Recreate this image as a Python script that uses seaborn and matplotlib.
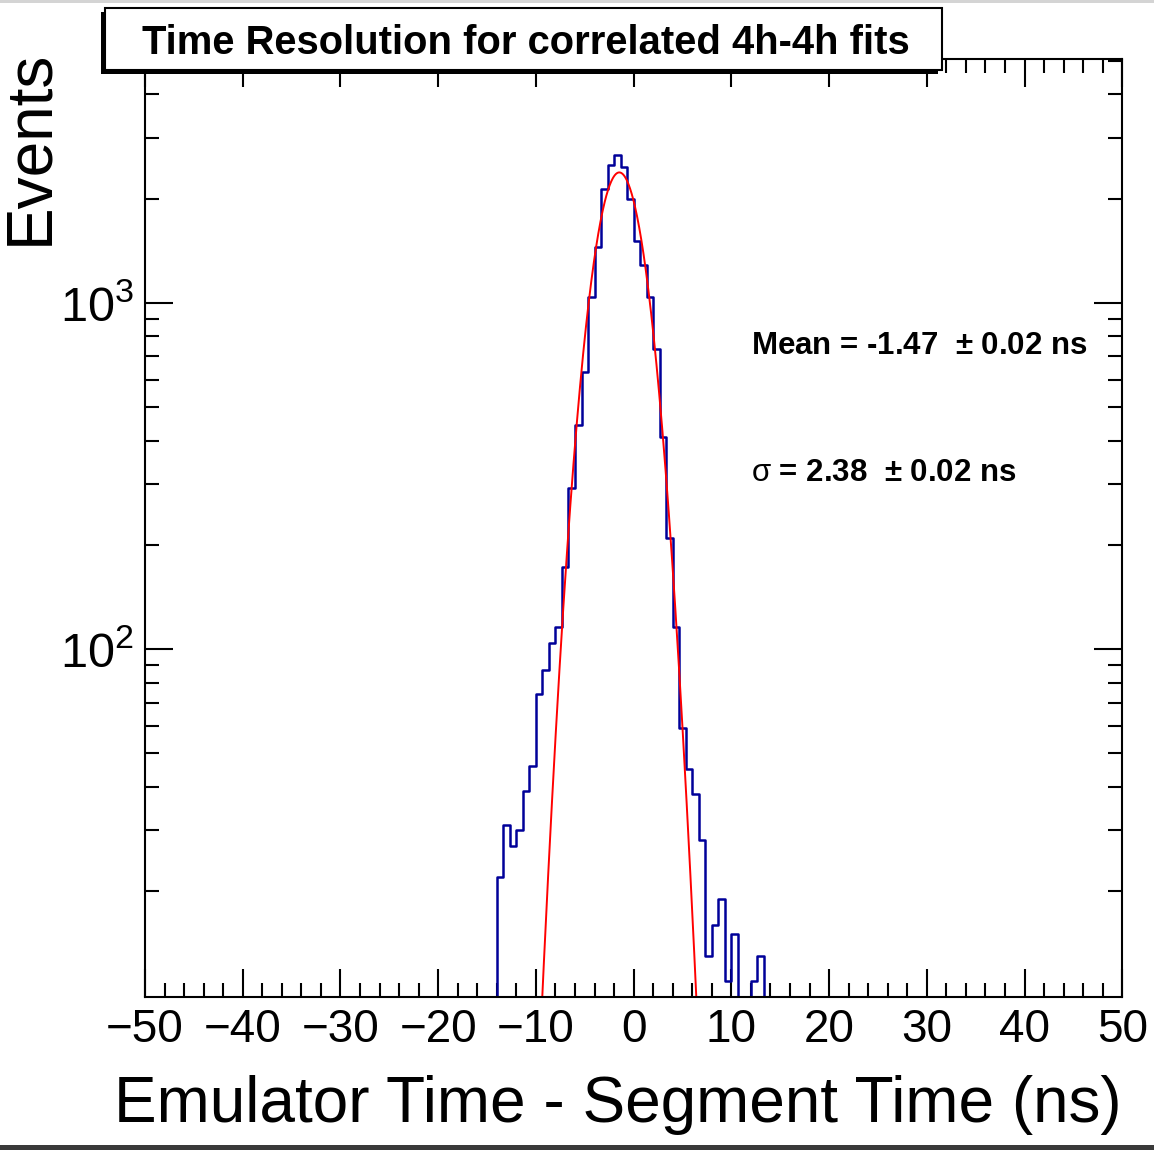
import numpy as np
import pandas as pd
import matplotlib
matplotlib.use("Agg")
import matplotlib.pyplot as plt
import matplotlib.ticker as mticker
from matplotlib.patches import Rectangle
import seaborn as sns

# histogram: 150 bins on [-50, 50], only the populated region listed
bin_width = 2.0 / 3.0
first_edge = -16.0
counts = [3, 4, 7,
          22, 31, 27, 30, 39, 46, 74, 87, 104, 116, 173, 291, 443, 630,
          1041, 1449, 2133, 2503, 2676, 2470, 1993, 1510, 1285, 1041, 736,
          410, 209, 116, 59, 45, 38, 28, 13, 16, 19, 11, 15, 6, 4, 11, 13,
          5, 3]

# gaussian fit result
fit_const = 2380.0
fit_mean = -1.47
fit_mean_err = 0.02
fit_sigma = 2.38
fit_sigma_err = 0.02
fit_range = (-12.0, 10.0)

title = "Time Resolution for correlated 4h-4h fits"
xlabel = "Emulator Time - Segment Time (ns)"
ylabel = "Events"

W, H = 1154, 1150

sns.set_theme(style="white")
plt.rcParams["font.family"] = ["Liberation Sans", "DejaVu Sans"]
plt.rcParams["mathtext.fontset"] = "custom"
plt.rcParams["mathtext.rm"] = "Liberation Sans"
plt.rcParams["mathtext.default"] = "regular"
plt.rcParams["axes.unicode_minus"] = True
plt.rcParams["text.color"] = "black"

def fx(x):
    return x / W

def fy(y):
    return 1 - y / H

fig = plt.figure(figsize=(W / 100, H / 100), dpi=100)
fig.patch.set_facecolor("white")
ax = fig.add_axes([fx(145), fy(996.7), fx(1122.3) - fx(145), fy(59) - fy(996.7)])

edges = first_edge + bin_width * np.arange(len(counts) + 1)
centers = 0.5 * (edges[:-1] + edges[1:])
df = pd.DataFrame({"t": centers, "n": counts})

ax.set_yscale("log")
sns.histplot(data=df, x="t", weights="n", bins=list(edges), element="step", fill=False,
             color="#000099", linewidth=1.8, ax=ax)

xf = np.linspace(fit_range[0], fit_range[1], 400)
yf = fit_const * np.exp(-0.5 * ((xf - fit_mean) / fit_sigma) ** 2)
sns.lineplot(x=xf, y=yf, color="#ff0000", linewidth=1.4, ax=ax)

ax.set_xlim(-50, 50)
ax.set_ylim(9.9, 5060)
ax.set_xlabel("")
ax.set_ylabel("")

ax.xaxis.set_major_locator(mticker.MultipleLocator(10))
ax.xaxis.set_minor_locator(mticker.MultipleLocator(2))
ax.yaxis.set_major_locator(mticker.FixedLocator([100, 1000]))
ax.yaxis.set_minor_locator(mticker.LogLocator(base=10, subs=np.arange(2, 10)))
ax.yaxis.set_minor_formatter(mticker.NullFormatter())
ax.yaxis.set_major_formatter(mticker.FuncFormatter(
    lambda v, p: r"$\mathregular{10^{%d}}$" % round(np.log10(v))))

ax.tick_params(which="both", direction="in", top=True, right=True,
               bottom=True, left=True, width=1.5, colors="black")
ax.tick_params(which="major", length=20)
ax.tick_params(which="minor", length=10)
ax.tick_params(axis="x", pad=8, labelsize=33)
ax.tick_params(axis="y", pad=8, labelsize=35)
for s in ax.spines.values():
    s.set_linewidth(1.5)
    s.set_color("black")

fig.text(fx(1122), fy(1122), xlabel, ha="right", va="baseline", fontsize=46)
fig.text(fx(47), fy(50), ylabel, rotation=90, rotation_mode="anchor",
         ha="right", va="baseline", fontsize=46)

# title pave with shadow
fig.add_artist(Rectangle((fx(101), fy(74)), fx(938) - fx(101), fy(12) - fy(74),
                         transform=fig.transFigure, facecolor="black", edgecolor="none"))
fig.add_artist(Rectangle((fx(105), fy(70)), fx(942) - fx(105), fy(8) - fy(70),
                         transform=fig.transFigure, facecolor="white", edgecolor="black",
                         linewidth=1.5))
fig.text(fx(526), fy(54), title, ha="center", va="baseline", fontsize=28.8,
         fontweight="bold")

# fit results
fig.text(fx(751), fy(354), "Mean = %.2f  $\\pm$ %.2f ns" % (fit_mean, fit_mean_err),
         ha="left", va="baseline", fontsize=22.5, fontweight="bold")
fig.text(fx(751), fy(481), "$\\mathrm{\\sigma}$ = %.2f  $\\pm$ %.2f ns" % (fit_sigma, fit_sigma_err),
         ha="left", va="baseline", fontsize=22.5, fontweight="bold")

# screenshot edges
fig.add_artist(Rectangle((0, fy(3)), 1, fy(0) - fy(3), transform=fig.transFigure,
                         facecolor="#d4d4d4", edgecolor="none"))
fig.add_artist(Rectangle((0, 0), 1, fy(1145), transform=fig.transFigure,
                         facecolor="#3a3a3a", edgecolor="none"))

fig.savefig("out.png", dpi=100)
